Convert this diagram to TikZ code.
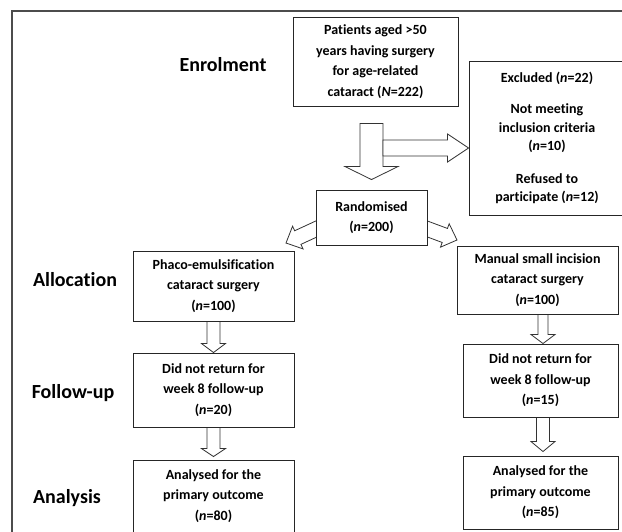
\documentclass[tikz,border=0pt]{standalone}
\usepackage{fontspec}
\setmainfont{Carlito}[Ligatures=NoCommon]
\usetikzlibrary{calc,backgrounds}

% hollow block arrow: tail, tip, shaft half width, head half width, head length
\newcommand\fatarrow[5]{%
  \coordinate (hb) at ($(#2)!#5!(#1)$);
  \draw[fat] ($(#1)!#3!90:(#2)$) -- ($(hb)!#3!-90:(#1)$) -- ($(hb)!#4!-90:(#1)$)
    -- (#2) -- ($(hb)!#4!90:(#1)$) -- ($(hb)!#3!90:(#1)$) -- ($(#1)!#3!-90:(#2)$) -- cycle;}

\tikzset{
  box/.style={draw=black!85, line width=0.9pt, fill=white, align=center, inner sep=0pt,
    font=\fontsize{14}{20.5}\selectfont\bfseries},
  stage/.style={font=\fontsize{20}{24}\selectfont\bfseries},
  fat/.style={draw=black!80, line width=0.8pt, fill=white},
}

\begin{document}
\begin{tikzpicture}[x=1pt,y=-1pt]
  \useasboundingbox (0,0) rectangle (622,531);
  \clip (0,0) rectangle (622,531);
  \draw[line width=1.2pt, black!70] (12,560) -- (12,11) -- (640,11);

  % stages
  \node[stage] (enrol) at (223,65) {Enrolment};
  \node[stage] (alloc) at (75,280) {Allocation};
  \node[stage] (follow) at (73,393) {Follow-up};
  \node[stage] (analys) at (67,498) {Analysis};

  % boxes
  \node[box, minimum width=165pt, minimum height=89pt] (patients) at (375.5,61.5)
    {Patients aged >50\\years having surgery\\for age-related\\cataract (\textit{N}=222)};
  \node[box, minimum width=156pt, minimum height=154pt, font=\fontsize{14}{18.5}\selectfont\bfseries]
    (excl) at (547,138)
    {Excluded (\textit{n}=22)\\[13pt]Not meeting\\inclusion criteria\\(\textit{n}=10)\\[14pt]Refused to\\participate (\textit{n}=12)};
  \node[box, minimum width=111pt, minimum height=55pt] (rand) at (371.5,217.5)
    {Randomised\\(\textit{n}=200)};
  \node[box, minimum width=161pt, minimum height=70pt] (phaco) at (213.5,286)
    {Phaco-emulsification\\cataract surgery\\(\textit{n}=100)};
  \node[box, minimum width=161pt, minimum height=68pt] (msics) at (537.5,280)
    {Manual small incision\\cataract surgery\\(\textit{n}=100)};
  \node[box, minimum width=161pt, minimum height=74pt] (lostL) at (213.5,390)
    {Did not return for\\week 8 follow-up\\(\textit{n}=20)};
  \node[box, minimum width=155pt, minimum height=73pt] (lostR) at (540.5,380.5)
    {Did not return for\\week 8 follow-up\\(\textit{n}=15)};
  \node[box, minimum width=161pt, minimum height=72pt] (anaL) at (213.5,496)
    {Analysed for the\\primary outcome\\(\textit{n}=80)};
  \node[box, minimum width=155pt, minimum height=73pt] (anaR) at (540.5,492.5)
    {Analysed for the\\primary outcome\\(\textit{n}=85)};

  % block arrows
  \coordinate (rcol) at (543,0);
  \coordinate (dtail) at ($(rand.north)+(0,-66)$);
  \coordinate (dtip) at ($(rand.north)+(0,-10)$);
  \coordinate (xtail) at (383,148);
  \coordinate (xtip) at (excl.west |- xtail);
  \coordinate (rtail) at ($(rand.east)+(-4,10)$);
  \coordinate (rtip) at (457,240);
  \coordinate (ltail) at ($(rand.west)+(4,10)$);
  \coordinate (ltip) at (286,243);
  \coordinate (aL) at (phaco.south);
  \coordinate (bL) at (lostL.north);
  \coordinate (cL) at (lostL.south);
  \coordinate (dL) at ($(anaL.north)+(0,-3)$);
  \coordinate (aR) at (msics.south -| rcol);
  \coordinate (bR) at (lostR.north -| rcol);
  \coordinate (cR) at (lostR.south -| rcol);
  \coordinate (dR) at ($(anaR.north -| rcol)+(0,-4)$);

  \begin{pgfonlayer}{background}
    \fatarrow{dtail}{dtip}{11.5pt}{26.5pt}{13pt}
    \fatarrow{xtail}{xtip}{8pt}{14pt}{21pt}
    \fatarrow{rtail}{rtip}{7.5pt}{12.5pt}{13pt}
    \fatarrow{ltail}{ltip}{7.5pt}{12.5pt}{13pt}
    \fatarrow{aL}{bL}{6.5pt}{12pt}{9pt}
    \fatarrow{cL}{dL}{6.5pt}{12pt}{8pt}
    \fatarrow{aR}{bR}{5pt}{12pt}{9pt}
    \fatarrow{cR}{dR}{6.5pt}{12pt}{10pt}
  \end{pgfonlayer}
\end{tikzpicture}
\end{document}
